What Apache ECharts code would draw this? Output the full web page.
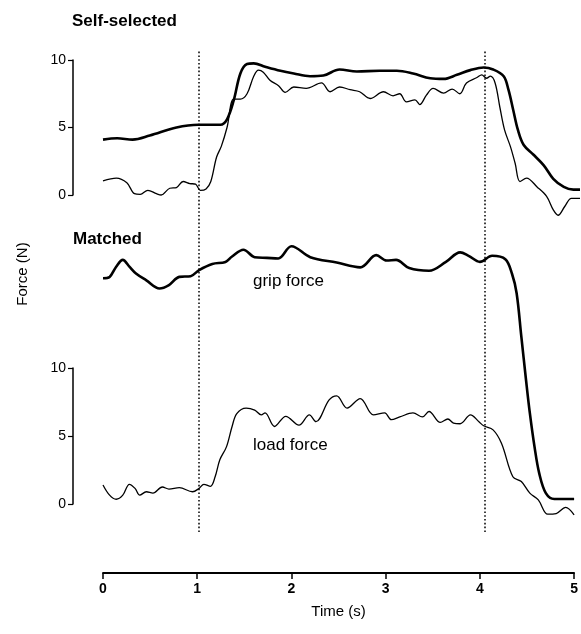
<!DOCTYPE html>
<html>
<head>
<meta charset="utf-8">
<script src="https://cdn.jsdelivr.net/npm/echarts@6/dist/echarts.min.js"></script>
<style>
  html, body { margin: 0; padding: 0; background: #fff; }
  #chart { width: 581px; height: 634px; }
</style>
</head>
<body>
<div id="chart"></div>
<script>
// ---- Data (time in s, force in N) ----
const xTicks = [0, 1, 2, 3, 4, 5];
const yTicks = [0, 5, 10];
const eventTimes = [1, 4];

// Self-selected: grip force (thick)
const selfGripT = [0, 0.15, 0.31, 0.49, 0.77, 1.0, 1.23, 1.3, 1.37, 1.44, 1.51, 1.58, 1.7, 1.86, 2.0, 2.17, 2.31, 2.48, 2.66, 2.9, 3.08, 3.25, 3.43, 3.57, 3.71, 3.85, 3.99, 4.09, 4.2, 4.25, 4.3, 4.35, 4.41, 4.51, 4.62, 4.72, 4.83, 4.93, 5.0];
const selfGripF = [4.1, 4.2, 4.1, 4.4, 5.0, 5.2, 5.2, 5.6, 7.0, 9.0, 9.7, 9.75, 9.5, 9.2, 9.0, 8.8, 8.85, 9.3, 9.15, 9.2, 9.2, 9.0, 8.65, 8.6, 8.9, 9.25, 9.45, 9.3, 8.8, 7.8, 6.3, 4.8, 3.7, 3.0, 2.2, 1.2, 0.6, 0.4, 0.4];

// Self-selected: load force (thin)
const selfLoadT = [0, 0.14, 0.25, 0.33, 0.39, 0.47, 0.56, 0.61, 0.7, 0.77, 0.84, 0.91, 0.97, 1.02, 1.08, 1.13, 1.19, 1.24, 1.3, 1.37, 1.44, 1.51, 1.58, 1.63, 1.68, 1.75, 1.84, 1.91, 2.0, 2.13, 2.29, 2.38, 2.48, 2.59, 2.69, 2.8, 2.94, 3.04, 3.11, 3.18, 3.27, 3.32, 3.39, 3.46, 3.57, 3.66, 3.74, 3.81, 3.92, 3.97, 4.02, 4.06, 4.11, 4.16, 4.21, 4.27, 4.32, 4.37, 4.44, 4.55, 4.65, 4.72, 4.77, 4.84, 4.91, 5.0];
const selfLoadF = [1.05, 1.25, 0.9, 0.1, 0.05, 0.35, 0.1, 0.0, 0.5, 0.55, 1.0, 0.85, 0.8, 0.35, 0.45, 1.0, 2.8, 3.6, 5.0, 7.1, 7.1, 7.5, 8.8, 9.25, 9.1, 8.5, 8.1, 7.6, 8.0, 7.9, 8.3, 7.65, 8.0, 7.8, 7.65, 7.15, 7.65, 7.35, 7.5, 6.9, 7.05, 6.7, 7.4, 7.9, 7.55, 7.85, 7.5, 8.3, 8.7, 8.9, 8.65, 8.8, 8.3, 6.5, 4.8, 3.6, 2.35, 1.0, 1.25, 0.6, -0.1, -1.1, -1.5, -0.85, -0.25, -0.25];

// Matched: grip force (thick)
const matchGripT = [0, 0.07, 0.14, 0.21, 0.28, 0.35, 0.46, 0.6, 0.7, 0.81, 0.93, 1.02, 1.16, 1.3, 1.37, 1.49, 1.61, 1.74, 1.86, 2.0, 2.2, 2.48, 2.73, 2.9, 3.01, 3.11, 3.25, 3.46, 3.64, 3.79, 3.88, 4.0, 4.13, 4.27, 4.34, 4.39, 4.44, 4.49, 4.53, 4.58, 4.63, 4.7, 4.79, 5.0];
const matchGripF = [16.6, 16.7, 17.45, 17.95, 17.45, 16.95, 16.45, 15.85, 16.1, 16.7, 16.75, 17.2, 17.65, 17.8, 18.2, 18.7, 18.15, 18.1, 18.05, 18.95, 18.15, 17.75, 17.4, 18.3, 17.9, 17.95, 17.35, 17.15, 17.8, 18.5, 18.25, 17.8, 18.25, 18.0, 16.95, 15.5, 12.3, 9.1, 6.7, 4.2, 2.25, 0.8, 0.37, 0.37];

// Matched: load force (thin)
const matchLoadT = [0, 0.07, 0.14, 0.21, 0.28, 0.34, 0.39, 0.46, 0.53, 0.63, 0.7, 0.81, 0.95, 1.02, 1.07, 1.14, 1.19, 1.24, 1.31, 1.37, 1.42, 1.52, 1.61, 1.68, 1.72, 1.82, 1.94, 2.08, 2.19, 2.26, 2.4, 2.48, 2.59, 2.73, 2.87, 2.99, 3.06, 3.15, 3.29, 3.39, 3.46, 3.58, 3.66, 3.72, 3.79, 3.9, 3.99, 4.04, 4.14, 4.23, 4.35, 4.44, 4.53, 4.62, 4.72, 4.81, 4.91, 5.0];
const matchLoadF = [1.4, 0.65, 0.35, 0.65, 1.45, 1.15, 0.65, 0.9, 0.8, 1.25, 1.1, 1.2, 0.9, 1.15, 1.45, 1.3, 2.0, 3.25, 4.2, 5.7, 6.65, 7.05, 6.9, 6.55, 6.7, 5.7, 6.45, 5.8, 6.55, 6.05, 7.65, 7.95, 7.05, 7.75, 6.55, 6.7, 6.2, 6.4, 6.7, 6.4, 6.8, 6.0, 6.25, 5.95, 5.9, 6.55, 6.05, 5.75, 5.45, 4.45, 2.0, 1.65, 0.8, 0.3, -0.75, -0.7, -0.25, -0.8];

const pairs = (t, v) => t.map((x, i) => [x, v[i]]);

const FONT = '"Liberation Sans", Arial, Helvetica, sans-serif';
const chart = echarts.init(document.getElementById('chart'), null, { renderer: 'canvas' });

const yAxisBase = (gi) => ({
  gridIndex: gi, type: 'value', min: yTicks[0], max: yTicks[yTicks.length - 1], interval: 5,
  offset: 30,
  axisLine: { show: true, onZero: false, lineStyle: { color: '#000', width: 1.5 } },
  axisTick: { show: true, length: 5, lineStyle: { color: '#000', width: 1.2 } },
  axisLabel: { color: '#000', fontSize: 14, fontFamily: FONT, margin: 7 },
  splitLine: { show: false }
});

const lineSeries = (xi, yi, t, v, w) => ({
  type: 'line', xAxisIndex: xi, yAxisIndex: yi, data: pairs(t, v),
  smooth: 0.35, symbol: 'none', clip: false, silent: true,
  lineStyle: { color: '#000', width: w }
});

chart.setOption({
  animation: false,
  backgroundColor: '#fff',
  grid: [
    { left: 103, right: 1, top: 60, height: 135 },
    { left: 103, right: 1, top: 368, height: 136 },
    { left: 103, right: 1, top: 50, height: 482 }
  ],
  xAxis: [
    { gridIndex: 0, type: 'value', min: 0, max: 5, show: false },
    { gridIndex: 1, type: 'value', min: xTicks[0], max: xTicks[xTicks.length - 1], interval: 1,
      offset: 69,
      axisLine: { show: true, onZero: false, lineStyle: { color: '#000', width: 1.8 } },
      axisTick: { show: true, length: 6, lineStyle: { color: '#000', width: 1.5 } },
      axisLabel: { color: '#000', fontSize: 14, fontWeight: 'bold', fontFamily: FONT, margin: 9 },
      splitLine: { show: false },
      name: 'Time (s)', nameLocation: 'middle', nameGap: 31,
      nameTextStyle: { color: '#000', fontSize: 15, fontFamily: FONT }
    },
    { gridIndex: 2, type: 'value', min: 0, max: 5, show: false }
  ],
  yAxis: [
    yAxisBase(0),
    yAxisBase(1),
    { gridIndex: 2, type: 'value', min: 0, max: 1, show: false }
  ],
  graphic: [
    { type: 'text', left: 72, top: 13, style: { text: 'Self-selected', font: 'bold 17px ' + FONT, fill: '#000' } },
    { type: 'text', left: 73, top: 231, style: { text: 'Matched', font: 'bold 17px ' + FONT, fill: '#000' } },
    { type: 'text', left: 253, top: 273, style: { text: 'grip force', font: '17px ' + FONT, fill: '#000' } },
    { type: 'text', left: 253, top: 437, style: { text: 'load force', font: '17px ' + FONT, fill: '#000' } },
    { type: 'text', x: 23, y: 274, rotation: Math.PI / 2,
      style: { text: 'Force (N)', font: '15px ' + FONT, fill: '#000', textAlign: 'center', textVerticalAlign: 'middle' } }
  ],
  series: [
    lineSeries(0, 0, selfGripT, selfGripF, 2.6),
    lineSeries(0, 0, selfLoadT, selfLoadF, 1.3),
    lineSeries(1, 1, matchGripT, matchGripF, 2.6),
    lineSeries(1, 1, matchLoadT, matchLoadF, 1.3),
    {
      type: 'line', xAxisIndex: 2, yAxisIndex: 2, data: [], silent: true,
      markLine: {
        symbol: 'none', silent: true, animation: false,
        label: { show: false },
        lineStyle: { color: '#000', type: [1.6, 2.2], width: 1.5 },
        data: eventTimes.map(t => ({ xAxis: t }))
      }
    }
  ]
});
</script>
</body>
</html>
